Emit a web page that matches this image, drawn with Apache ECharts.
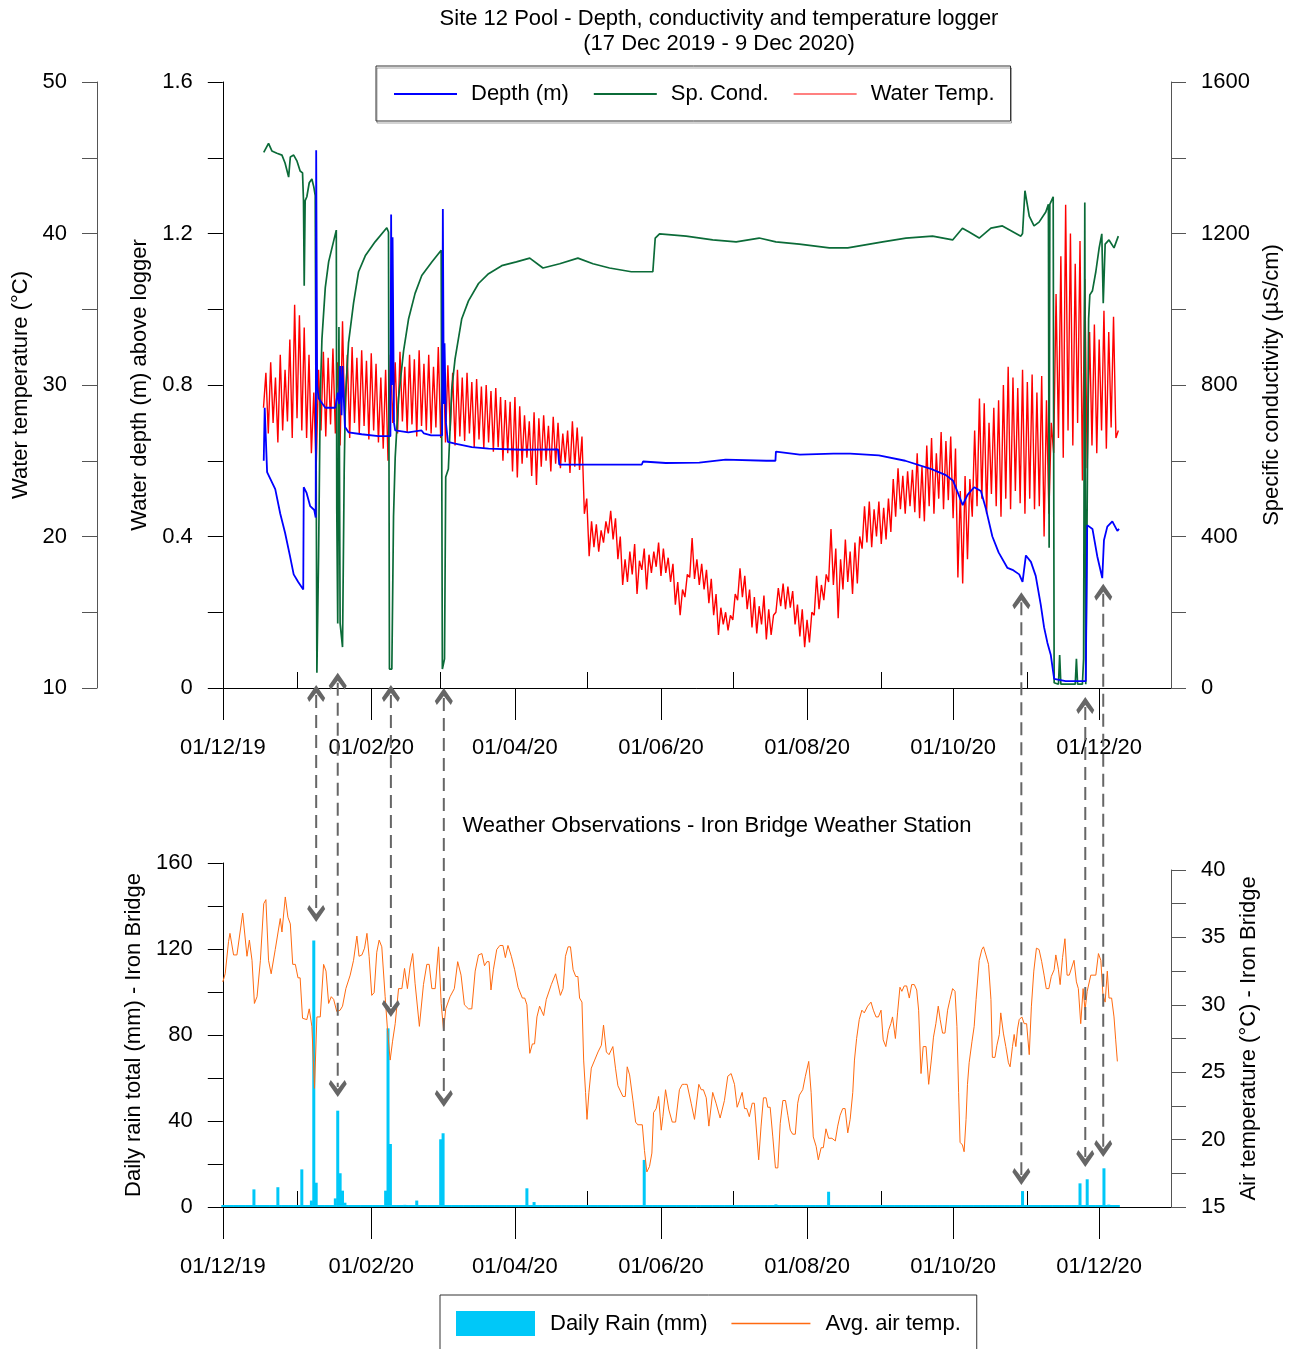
<!DOCTYPE html>
<html lang="en">
<head>
<meta charset="UTF-8">
<title>Site 12 Pool logger</title>
<script src="https://cdn.jsdelivr.net/npm/echarts@6.0.0/dist/echarts.min.js"></script>
<style>
  html, body { margin: 0; padding: 0; background: #fff; }
  #main { width: 1293px; height: 1349px; }
</style>
</head>
<body>
<div id="main"></div>
<script>
// all days are counted from 1 Dec 2019
var T0 = new Date(2019, 11, 1).getTime();
var DAY = 86400000;
var LAST_DAY = 396; // 31 Dec 2020, right edge of both plots

var majorTickDates = ['2019-12-01', '2020-02-01', '2020-04-01', '2020-06-01', '2020-08-01', '2020-10-01', '2020-12-01'];
var minorTickDates = ['2020-01-01', '2020-03-01', '2020-05-01', '2020-07-01', '2020-09-01', '2020-11-01'];

// depth above logger (m)
var depthDay = [17.1,17.5,18.5,21.9,24,26,28,29.6,31.5,33.6, 33.8,35,36.5,38.2,38.8,39,39.4,40,42.8,47,
  48,48.6,49,49.6,50,51,52.5,58,65,70, 70.3,70.6,70.9,71.5,72,77.5,83,84,87,91.6,
  91.9,92.3,92.6,93.2,94,97,104,111,125,140, 140.5,150,157,175,175.5,185,199,210,227,230.8,
  231,241,255,262,274,285,296,302,305,307, 309,311,313.8,316.6,318.7,321.4,324,327.7,329.8,332.6,
  334,335.4,337.5,339.5,341.6,343,344.4,345.8,347.2,352, 360.4,361,363.2,365.2,367.3,368,369.4,371.5,373.6,374.3];
var depthVal = [0.60,0.74,0.57,0.525,0.46,0.41,0.35,0.30,0.28,0.26, 0.53,0.515,0.48,0.47,0.45,1.42,0.80,0.765,0.74,0.74,
  0.78,0.75,0.85,0.72,0.85,0.69,0.675,0.67,0.665,0.665, 1.25,0.80,1.19,0.70,0.68,0.675,0.68,0.672,0.667,0.667,
  1.265,0.75,0.91,0.70,0.65,0.645,0.636,0.632,0.629,0.63, 0.59,0.59,0.59,0.59,0.598,0.594,0.595,0.603,0.60,0.60,
  0.624,0.616,0.619,0.619,0.614,0.60,0.578,0.562,0.547,0.515, 0.483,0.51,0.53,0.52,0.473,0.40,0.358,0.317,0.312,0.30,
  0.28,0.35,0.333,0.296,0.22,0.16,0.119,0.087,0.024,0.018, 0.018,0.43,0.42,0.348,0.29,0.39,0.426,0.44,0.415,0.42];

// specific conductivity (uS/cm)
var condDay = [17.1,19.1,20.5,22.6,24.7,26,27.5,28.2,29.6,31, 32.3,33.3,33.7,34,34.4,35.1,36.1,37.2,38,38.6,
  39.3,40,40.7,41.4,42.8,44.2,45.6,47.4,47.6,48, 48.5,49,50,50.7,51.2,52.5,54.6,56.7,59.5,63.6,
  68.5,69.2,69.6,70.6,71.3,72,73.4,75.5,77.6,80.3, 83.1,87.3,91.2,91.7,92.6,93.1,94.2,95.6,97,99.8,
  102.6,106.8,111,116.5,122.6,128.2,133.7,140.7,148.3,154.6, 161.5,170.6,179.6,180.6,182.4,193.5,204.6,214.4,224,231,
  240.8,253.3,261,275.6,285.3,296.4,304.8,308.9,311.7,315.9, 320.8,325.6,333.3,334,335,336.8,338.8,340.9,343.7,344.8,
  345.1,345.4,346.8,347.2,349,349.5,350,356,356.5,357, 359,359.5,360,360.4,361.2,361.6,362.1,363.2,364.6,366,
  367.1,367.7,368.5,370.1,372.2,374];
var condVal = [1414,1438,1418,1412,1407,1386,1349,1402,1407,1391, 1365,1360,1287,1062,1287,1297,1334,1344,1323,1300,
  40,348,766,921,1057,1125,1162,1209,472,170, 953,170,108,573,766,911,1016,1099,1141,1178,
  1215,1204,50,50,452,609,766,890,975,1042, 1089,1125,1156,50,77,557,578,787,869,975,
  1022,1068,1094,1115,1125,1135,1109,1120,1135,1120, 1109,1099,1099,1188,1199,1193,1183,1178,1188,1178,
  1172,1162,1162,1178,1188,1193,1183,1214,1204,1188, 1214,1220,1193,1200,1313,1246,1220,1230,1257,1277,
  370,1277,1297,14,10,87,10,10,77,10, 10,77,1282,10,10,975,1038,1049,1099,1162,
  1199,1016,1172,1183,1162,1193];

// water temperature (deg C): low then high reading for each 2-day step from day 17
var WT_START = 17;
var wtLo = [28.5,26.8,27.5,26.2,27.0,27.6,26.5,27.8,27.0,26.5, 25.5,24.5,27.0,26.6,27.4,26.8,26.0,27.2,26.5,27.5,
  26.8,27.3,26.4,27.0,26.2,25.8,25.0,27.5,26.8,27.6, 26.9,27.4,26.6,27.3,27.0,26.8,27.2,26.5,26.2,27.0,
  26.0,26.6,26.3,26.8,25.9,26.4,25.8,26.2,25.6,25.9, 25.0,25.5,24.3,23.9,24.8,25.2,24.0,23.4,24.6,25.0,
  24.3,24.8,24.5,24.9,24.2,24.6,24.4,21.5,18.7,19.3, 19.0,19.6,20.2,19.8,18.5,16.8,17.0,17.5,16.2,17.8,
  16.5,17.6,18.0,17.4,17.6,17.0,15.5,14.8,16.0,17.3, 17.2,16.8,16.5,15.6,14.8,13.5,14.2,13.8,14.5,15.8,
  16.0,15.2,14.0,13.6,14.2,13.2,13.5,15.0,15.4,15.2, 15.3,14.2,13.4,12.7,13.0,14.8,15.2,15.8,17.0,16.8,
  14.6,16.5,17.0,16.2,16.9,19.2,19.6,19.3,20.0,19.5, 19.8,20.3,21.3,21.8,21.5,22.0,21.6,21.2,21.0,22.0,
  21.5,22.5,21.8,22.4,21.2,17.3,16.9,18.5,21.3,22.0, 22.5,21.5,22.8,22.0,21.3,22.5,21.8,23.0,22.2,21.5,
  22.5,21.8,22.0,20.0,21.5,25.5,26.5,25.2,27.0,26.0, 27.5,23.7,24.5,26.0,25.5,27.0,25.8,27.2,26.5];
var wtHi = [30.8,31.5,30.5,32.0,31.0,33.0,35.3,34.6,33.8,32.0, 29.5,31.0,32.2,31.8,32.4,31.5,34.2,32.0,32.5,31.8,
  32.3,31.6,32.1,31.4,30.5,31.0,32.0,31.5,32.2,31.2, 32.0,31.7,32.3,31.4,32.0,31.2,32.5,32.6,31.3,30.8,
  31.0,30.5,30.8,30.2,30.4,29.9,30.0,29.6,29.8,29.2, 29.0,28.9,29.2,28.6,28.0,27.6,28.2,27.8,28.0,27.3,
  27.9,27.5,26.8,27.0,27.6,27.2,26.6,22.5,21.0,20.8, 20.4,21.0,21.7,21.2,20.0,18.5,19.0,19.5,18.4,19.2,
  18.8,19.0,19.6,19.2,18.6,18.2,17.0,16.5,17.5,19.9, 18.5,18.2,17.8,17.2,16.2,15.3,15.0,14.8,16.2,17.9,
  17.4,16.5,16.0,15.4,16.1,15.2,14.8,16.6,16.9,16.7, 16.4,15.5,15.2,14.5,15.0,17.4,16.8,17.5,20.5,19.2,
  18.5,19.8,19.0,19.6,20.0,22.0,22.3,21.8,22.3,21.9, 22.5,23.8,24.5,24.0,24.3,24.4,25.5,24.6,26.0,26.5,
  25.5,26.9,26.3,26.6,25.8,23.0,24.0,23.8,27.0,29.1, 28.8,27.5,28.5,29.0,30.0,31.2,30.5,29.8,31.0,30.2,
  30.7,29.5,30.6,29.0,27.5,36.0,38.5,41.9,40.0,38.0, 39.5,37.0,33.5,34.0,33.0,34.9,33.5,34.5,27.0];

// daily rain (mm) at Iron Bridge, days with rain only; record covers day 0 to RAIN_LAST
var RAIN_LAST = 374;
var rainDay = [4,13,23,27,33,37,38,39,47,48, 49,50,51,68,69,70,76,81,91,92, 127,130,176,195,231,253,334,353,358,361, 362,368,370,374];
var rainMm = [0.5,8.2,9.2,0.8,17.5,3,124,11.3,4,44.8, 15.7,7.6,2,7.6,83.1,29.3,1,3,31.5,34.3, 8.7,2.3,21.9,0.4,1.2,7.1,7.4,0.8,11,12.9, 0.5,18,1.1,0.9];

// average air temperature (deg C)
var airDay = [0,1,2.4,3,4.5,5.9,6.6,8.3,10.1,11.1, 12.2,13.2,14.3,15.7,17.1,18,19.1,20.2,21.9,24,
  24.7,26.1,27.2,28.2,29.2,30.3,31.4,32.3,33.3,35.1, 36.1,37.2,38.3,39.3,40.7,42.1,43.1,44.2,45.3,46.3,
  47.6,49,50,51.4,53.2,54.6,56,56.9,58.1,59.2, 60.2,61.1,62.2,63.2,64.3,65.3,66.4,67.8,68.8,69.9,
  70.9,72,73.4,74.8,75.9,77.1,78.2,79.3,80.3,82.1, 83.8,85.2,86.2,87.3,88.7,90.1,91.2,92.2,93.1,94.9,
  96.7,98.1,99.5,100.9,102.6,104,105.4,106.8,108.2,109.3, 110.3,111.2,112,113,114.4,
  115.7,117,118,119.1,120.5,121.9,123.3,125.1,126.1,127, 128.2,129.3,130.2,131.2,132.3,134,135.1,137.2,139,141,
  142.1,143.1,144.2,145.2,146.3,147.4,148.3,149,150,150.7, 151.5,152.1,152.9,153.9,155.3,156.7,158.1,159,160.2,161.3,
  162.9,164,165,167.1,168.1,168.9,169.9,171.3,172.4,173.3, 175.2,176.1,177.1,178.2,179.2,179.9,181,182,183.1,183.8,
  184.9,186.3,187.7,189.1,190.7,191.9,192.8,193.9,195.6,197, 198.8,199.8,200.7,201.9,203,204.6,206,207.7,209.5,210.9,
  212.3,213.7,214.8,215.8,216.9,217.9,218.8,219.9,221.1,222, 223.8,224.8,225.8,226.9,227.6,228.6,229.7,230.8,231.8,232.8,
  233.9,235,236,237,238,239.1,240.1,
  240.8,242.2,243.3,244.7,245.7,246.6,247.8,248.7,249.9,250.8, 251.9,253,254.4,255.8,256.8,257.8,258.9,259.9,261,262,
  263.1,263.8,264.7,265.8,266.9,267.9,269.3,270.7,271.7,272.8, 273.8,274.9,275.8,276.9,278,279,279.7,280.9,281.8,282.8,
  283.6,284.6,285.6,286.7,287.7,288.8,289.8,290.6,291.6,292.5, 293.7,294.8,295.9,296.8,297.8,298.8,299.6,300.6,301.6,302.7,
  303.7,304.8,305.8,306.6,307.3,307.9,308.9,309.6,310.4,311, 311.7,312.9,313.8,314.6,315.9,317,317.7,318.7,319.8,320.8,
  321.4,322.5,323.3,324.3,324.9,326,327,328.1,328.8,329.8, 330.5,331.2,331.9,332.6,333.7,334.7,335.7,336.8,337.7,338.7,
  339.8,340.9,342,343,343.9,345,346,347.2,347.9,349, 349.7,350.7,351.7,352.6,353.5,354.6,355.5,356.5,357.3,358.3,
  359.3,360.1,361,362.5,363.4,364.6,365.7,366.7,367.6,368.5, 369.4,370.1,371.2,372.2,372.9,373.6];
var airVal = [31.7,32.3,34.7,35.3,33.7,33.7,33.6,36.8,33.6,34.8, 33.3,30.1,30.6,33.3,37.5,37.8,33.3,32.3,34.1,36.4,
  35.4,38.0,36.5,36.0,33.0,33.0,32.0,32.0,29.0,28.9, 29.7,28.4,23.8,29.1,29.1,33.0,32.5,30.1,30.6,30.4,
  29.5,29.6,29.9,31.2,32.2,33.3,35.1,33.6,33.7,34.2, 35.3,33.6,30.7,30.9,33.9,34.8,34.3,30.6,28.1,25.9,
  27.3,28.6,31.2,31.2,32.7,31.2,32.8,33.8,31.6,28.4, 31.5,33.0,33.0,31.2,31.2,34.3,30.1,28.1,29.7,30.6,
  31.2,33.2,32.2,30.0,29.7,29.7,32.5,33.7,33.8,32.9, 33.2,33.2,31.1,32.6,34.1,
  34.4,34.4,33.5,34.4,33.6,32.6,31.3,30.5,30.5,30.0, 26.4,27.1,27.1,29.1,29.9,29.2,30.4,31.5,32.3,30.7,
  31.2,33.6,34.3,34.3,32.6,32.1,32.1,30.5,30.2,25.9, 23.5,21.5,23.5,25.3,25.9,26.5,27.0,28.5,26.5,26.3,
  26.9,25.3,24.0,23.2,23.2,25.4,24.8,22.9,21.3,21.1, 21.1,19.2,17.6,18.0,19.0,22.0,22.3,23.2,20.7,21.7,
  23.7,22.2,21.3,21.3,23.7,24.1,24.1,24.1,22.7,21.5, 24.1,23.7,23.7,23.1,21.0,23.5,22.7,21.6,22.9,24.7,
  24.9,24.1,22.4,22.9,23.5,22.3,22.3,21.7,22.7,22.7, 18.5,21.0,23.1,23.1,22.4,22.4,20.2,17.9,17.9,21.2,
  22.9,22.9,21.8,20.7,20.4,20.4,22.7,
  23.3,23.7,24.7,25.8,23.5,20.2,19.5,18.5,19.4,19.4, 20.8,20.1,20.1,19.9,21.0,21.8,22.3,22.3,20.5,21.5,
  23.5,25.9,27.5,28.9,29.6,29.4,29.9,30.2,29.6,29.1, 29.1,29.6,27.4,26.9,28.1,28.6,29.1,27.5,29.4,31.3,
  31.0,31.4,31.4,30.5,31.5,31.5,31.1,29.6,24.9,26.9, 26.9,24.1,25.9,27.6,28.6,29.9,28.9,27.9,27.9,29.6,
  30.4,31.2,31.0,28.4,23.5,19.8,19.6,19.1,21.5,24.1, 25.7,27.3,28.4,30.4,33.3,34.1,34.3,33.7,33.0,30.4,
  26.1,26.1,27.0,27.8,29.4,27.9,26.9,25.7,25.4,26.9, 27.8,26.9,28.2,28.9,29.1,28.6,28.6,26.3,29.9,32.5,
  34.2,34.1,33.2,32.2,31.2,31.2,32.1,32.6,33.7,32.6, 31.5,33.5,34.9,32.2,32.2,32.8,33.3,31.7,31.2,28.6,
  31.2,29.6,31.0,32.2,32.2,32.2,33.8,33.3,30.7,30.2, 32.5,30.5,30.5,29.1,27.4,25.8];

// arrows linking logger events to rain days: day, depth at upper tip (m), rain at lower tip (mm)
var arrowDay = [39, 48, 70.2, 92.3, 333.5, 360.2, 367.7];
var arrowTopDepth = [0.008, 0.04, 0.008, 0, 0.253, -0.024, 0.275];
var arrowBotRain = [132.6, 51.2, 88.4, 46.5, 10.2, 18.6, 23.3];

var FONT = "'Liberation Sans', Arial, sans-serif";
var FS = 22;

function dayOf(s) {
  var p = s.split('-');
  return Math.round((new Date(+p[0], +p[1] - 1, +p[2]).getTime() - T0) / DAY);
}
function pad(n) { return (n < 10 ? '0' : '') + n; }
function pairs(days, vals) {
  var out = [];
  for (var i = 0; i < days.length; i++) out.push([days[i], vals[i]]);
  return out;
}

var wtData = [];
for (var i = 0; i < wtLo.length; i++) {
  wtData.push([WT_START + 2 * i, wtLo[i]]);
  wtData.push([WT_START + 2 * i + 1, wtHi[i]]);
}

var rainByDay = {};
rainDay.forEach(function (d, i) { rainByDay[d] = rainMm[i]; });
var rainData = [];
for (var d = 0; d <= RAIN_LAST; d++) rainData.push([d, rainByDay[d] || 0]);

var majorTicks = majorTickDates.map(dayOf);
var minorTicks = minorTickDates.map(dayOf);

function dateLabel(v) {
  var dt = new Date(T0 + Math.round(v) * DAY + 12 * 3600000);
  return pad(dt.getDate()) + '/' + pad(dt.getMonth() + 1) + '/' + pad(dt.getFullYear() % 100);
}
function every(step) {
  return function (v) {
    var k = Math.round(v / step * 1e6) / 1e6;
    return Math.abs(k - Math.round(k)) < 1e-6 ? String(+v.toFixed(1)) : '';
  };
}

var labelStyle = { color: '#000', fontSize: FS, fontFamily: FONT };
var nameStyle = { color: '#000', fontSize: FS, fontFamily: FONT };

function xMajor(grid) {
  return {
    type: 'value', gridIndex: grid, min: 0, max: LAST_DAY,
    axisLine: { show: true, onZero: false, lineStyle: { color: '#000', width: 1 } },
    axisTick: { show: true, length: 32, customValues: majorTicks, lineStyle: { color: '#000' } },
    axisLabel: Object.assign({ customValues: majorTicks, margin: 49, formatter: dateLabel,
                               showMinLabel: true, showMaxLabel: true }, labelStyle),
    splitLine: { show: false }
  };
}
function xMinor(grid) {
  return {
    type: 'value', gridIndex: grid, min: 0, max: LAST_DAY,
    axisLine: { show: false },
    axisTick: { show: true, length: 16, customValues: minorTicks, lineStyle: { color: '#000' } },
    axisLabel: { show: false },
    splitLine: { show: false }
  };
}
function yAx(o) {
  return {
    type: 'value', gridIndex: o.grid, position: o.pos, offset: o.offset || 0,
    min: o.min, max: o.max, interval: o.step,
    name: o.name, nameLocation: 'middle', nameRotate: 90, nameGap: o.gap, nameTextStyle: nameStyle,
    axisLine: { show: true, onZero: false, lineStyle: { color: o.color, width: 1 } },
    axisTick: { show: true, length: 15, lineStyle: { color: o.color } },
    axisLabel: Object.assign({ margin: 30, formatter: every(o.labelStep) }, labelStyle),
    splitLine: { show: false }
  };
}

var chart = echarts.init(document.getElementById('main'));

var noSymbol = { opacity: 0 };

var option = {
  animation: false,
  backgroundColor: '#fff',
  grid: [
    { left: 222.8, right: 122, top: 82, height: 606 },
    { left: 222.8, right: 122, top: 863, height: 344 },
    { left: 222.8, right: 122, top: 870, height: 337 }
  ],
  xAxis: [
    xMajor(0),
    xMajor(1),
    { type: 'value', gridIndex: 2, min: 0, max: LAST_DAY, show: false },
    xMinor(0),
    xMinor(1)
  ],
  yAxis: [
    yAx({ grid: 0, pos: 'left', min: 0, max: 1.6, step: 0.2, labelStep: 0.4, color: '#000',
          name: 'Water depth (m) above logger', gap: 68 }),
    yAx({ grid: 0, pos: 'left', offset: 125.8, min: 10, max: 50, step: 5, labelStep: 10, color: '#555',
          name: 'Water temperature (°C)', gap: 64 }),
    yAx({ grid: 0, pos: 'right', min: 0, max: 1600, step: 200, labelStep: 400, color: '#555',
          name: 'Specific conductivity (µS/cm)', gap: 89 }),
    yAx({ grid: 1, pos: 'left', min: 0, max: 160, step: 20, labelStep: 40, color: '#000',
          name: 'Daily rain total (mm) - Iron Bridge', gap: 74 }),
    yAx({ grid: 2, pos: 'right', min: 15, max: 40, step: 2.5, labelStep: 5, color: '#555',
          name: 'Air temperature (°C) - Iron Bridge', gap: 67 })
  ],
  legend: [
    {
      data: [
        { name: 'Depth (m)', itemStyle: noSymbol, lineStyle: { width: 2 } },
        { name: 'Sp. Cond.', itemStyle: noSymbol, lineStyle: { width: 2 } },
        { name: 'Water Temp.', itemStyle: noSymbol, lineStyle: { color: '#ff8080', width: 2 } }
      ],
      left: 376, top: 66, itemWidth: 63, itemHeight: 14, itemGap: 24,
      padding: [17, 16, 16, 17], borderColor: '#333', borderWidth: 1,
      shadowColor: 'rgba(0,0,0,0.35)', shadowOffsetX: 1, shadowOffsetY: 2,
      selectedMode: false,
      textStyle: { color: '#000', fontSize: FS, fontFamily: FONT, padding: [0, 0, 0, 9] }
    },
    {
      data: [
        { name: 'Daily Rain (mm)', icon: 'rect' },
        { name: 'Avg. air temp.', itemStyle: noSymbol, lineStyle: { width: 1.5 } }
      ],
      left: 440, top: 1295, itemWidth: 79, itemHeight: 25, itemGap: 23,
      padding: [16, 16, 14, 16], borderColor: '#333', borderWidth: 1,
      selectedMode: false,
      textStyle: { color: '#000', fontSize: FS, fontFamily: FONT, padding: [0, 0, 0, 10] }
    }
  ],
  series: [
    {
      name: 'Water Temp.', type: 'line', xAxisIndex: 0, yAxisIndex: 1, data: wtData,
      symbol: 'none', lineStyle: { color: '#ff0000', width: 1.4 }, itemStyle: { color: '#ff0000' }
    },
    {
      name: 'Sp. Cond.', type: 'line', xAxisIndex: 0, yAxisIndex: 2, data: pairs(condDay, condVal),
      symbol: 'none', lineStyle: { color: '#0b6b38', width: 1.7 }, itemStyle: { color: '#0b6b38' }
    },
    {
      name: 'Depth (m)', type: 'line', xAxisIndex: 0, yAxisIndex: 0, data: pairs(depthDay, depthVal),
      symbol: 'none', lineStyle: { color: '#0000ff', width: 1.8 }, itemStyle: { color: '#0000ff' }
    },
    {
      name: 'Daily Rain (mm)', type: 'bar', xAxisIndex: 1, yAxisIndex: 3, data: rainData,
      barWidth: 3, barMinHeight: 2, large: false, itemStyle: { color: '#00c8f8' }
    },
    {
      name: 'Avg. air temp.', type: 'line', xAxisIndex: 2, yAxisIndex: 4, data: pairs(airDay, airVal),
      symbol: 'none', lineStyle: { color: '#ff6a10', width: 1 }, itemStyle: { color: '#ff6a10' }
    }
  ]
};

chart.setOption(option);

function head(x, tip, dir) {
  // dir 1: points up, -1: points down
  return [[x, tip], [x + 9, tip + 13 * dir], [x + 7, tip + 17 * dir], [x, tip + 8 * dir],
          [x - 7, tip + 17 * dir], [x - 9, tip + 13 * dir]];
}

function textEl(str, x, y) {
  return { type: 'text', x: x, y: y, z: 50,
    style: { text: str, fill: '#000', font: FS + 'px ' + FONT, align: 'center', verticalAlign: 'middle' } };
}

var g = [
  textEl('Site 12 Pool - Depth, conductivity and temperature logger', 719, 19),
  textEl('(17 Dec 2019 - 9 Dec 2020)', 719, 44),
  textEl('Weather Observations - Iron Bridge Weather Station', 717, 826)
];
for (var k = 0; k < arrowDay.length; k++) {
  var x = chart.convertToPixel({ xAxisIndex: 0 }, arrowDay[k]);
  var yTop = chart.convertToPixel({ yAxisIndex: 0 }, arrowTopDepth[k]);
  var yBot = chart.convertToPixel({ yAxisIndex: 3 }, arrowBotRain[k]);
  g.push({ type: 'line', z: 60, shape: { x1: x, y1: yTop + 10, x2: x, y2: yBot - 10 },
    style: { stroke: '#666', lineWidth: 2, lineDash: [13, 7] } });
  g.push({ type: 'polygon', z: 61, shape: { points: head(x, yTop, 1) }, style: { fill: '#666' } });
  g.push({ type: 'polygon', z: 61, shape: { points: head(x, yBot, -1) }, style: { fill: '#666' } });
}
chart.setOption({ graphic: g });
</script>
</body>
</html>
